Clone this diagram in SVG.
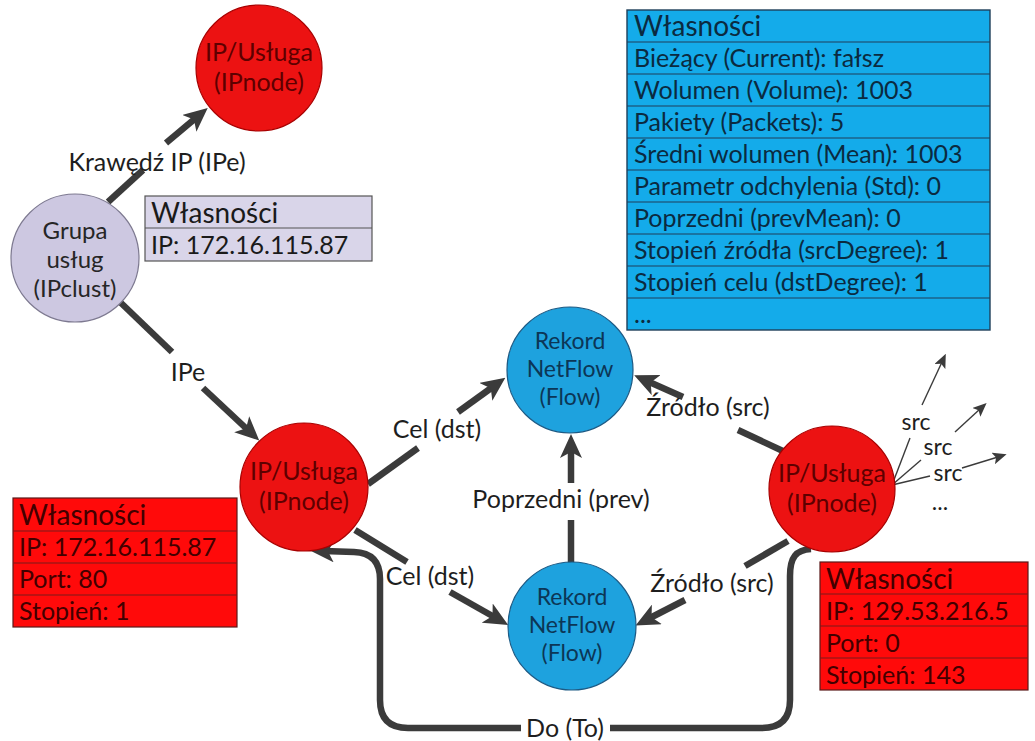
<svg xmlns="http://www.w3.org/2000/svg" width="1035" height="741" viewBox="0 0 1035 741">
  <defs>
    <style>
      text { font-family: Lato, "Liberation Sans", sans-serif; }
      .edge { fill: none; stroke: #3b3b3b; stroke-width: 6.5; stroke-linecap: butt; }
      .thin { fill: none; stroke: #3b3b3b; stroke-width: 1.4; }
      .lbl { font-size: 25px; fill: #1e1e1e; text-anchor: middle; }
      .small { font-size: 23px; fill: #1e1e1e; text-anchor: middle; }
      .red-node { fill: #ec1212; stroke: #a80000; stroke-width: 1.2; }
      .blue-node { fill: #1ea2de; stroke: #1d5a84; stroke-width: 1.2; }
      .grey-node { fill: #cdc8e1; stroke: #7d7990; stroke-width: 1.2; }
      .red-txt { font-size: 25px; fill: #5e0000; text-anchor: middle; }
      .blue-txt { font-size: 23px; fill: #0c3656; text-anchor: middle; }
      .grey-txt { font-size: 24px; fill: #262626; text-anchor: middle; }
      .hdr { font-size: 28px; }
      .row { font-size: 25px; }
      .sep { stroke-width: 1.2; }
    </style>
    <marker id="arrow" viewBox="0 0 24 22" refX="10" refY="11" markerWidth="24" markerHeight="22" markerUnits="userSpaceOnUse" orient="auto">
      <path d="M0,0 L24,11 L0,22 L6,11 Z" fill="#3b3b3b"/>
    </marker>
    <marker id="arrow-small" viewBox="0 0 14 12" refX="5" refY="6" markerWidth="14" markerHeight="12" markerUnits="userSpaceOnUse" orient="auto">
      <path d="M0,0 L14,6 L0,12 L3,6 Z" fill="#3b3b3b"/>
    </marker>
  </defs>

  <rect width="1035" height="741" fill="#ffffff"/>

  <!-- connectors -->
  <g id="connectors">
    <!-- IPclust -> top IPnode -->
    <line class="edge" x1="108" y1="202" x2="143" y2="170"/>
    <line class="edge" x1="166" y1="143" x2="197" y2="117" marker-end="url(#arrow)"/>
    <text class="lbl" x="157" y="171">Krawędź IP (IPe)</text>

    <!-- IPclust -> middle IPnode -->
    <line class="edge" x1="120" y1="302" x2="172" y2="352"/>
    <line class="edge" x1="203" y1="388" x2="249" y2="431" marker-end="url(#arrow)"/>
    <text class="lbl" x="188" y="381">IPe</text>

    <!-- IPnode -> upper Flow (dst) -->
    <line class="edge" x1="368" y1="484" x2="418" y2="448"/>
    <line class="edge" x1="458" y1="412" x2="494" y2="386" marker-end="url(#arrow)"/>
    <text class="lbl" x="437" y="438">Cel (dst)</text>

    <!-- IPnode -> lower Flow (dst) -->
    <line class="edge" x1="355" y1="530" x2="407" y2="562"/>
    <line class="edge" x1="450" y1="592" x2="496" y2="618" marker-end="url(#arrow)"/>
    <text class="lbl" x="430" y="585">Cel (dst)</text>

    <!-- lower Flow -> upper Flow (prev) -->
    <line class="edge" x1="571" y1="563" x2="571" y2="520"/>
    <line class="edge" x1="571" y1="483" x2="571" y2="448" marker-end="url(#arrow)"/>
    <text class="lbl" x="561" y="508">Poprzedni (prev)</text>

    <!-- right IPnode -> upper Flow (src) -->
    <line class="edge" x1="785" y1="452" x2="738" y2="430"/>
    <line class="edge" x1="683" y1="397" x2="647" y2="381" marker-end="url(#arrow)"/>
    <text class="lbl" x="708" y="416">Źródło (src)</text>

    <!-- right IPnode -> lower Flow (src) -->
    <line class="edge" x1="788" y1="541" x2="745" y2="566"/>
    <line class="edge" x1="685" y1="600" x2="648" y2="619" marker-end="url(#arrow)"/>
    <text class="lbl" x="712" y="592">Źródło (src)</text>

    <!-- right IPnode -> middle IPnode (To) -->
    <path class="edge" d="M811,549 C796,550 790,557 790,576 V700 Q790,728 762,728 H610"/>
    <path class="edge" d="M521,728 H408 Q380,728 380,700 V579 Q380,553 354,552 L324,551" marker-end="url(#arrow)"/>
    <text class="lbl" x="565" y="737">Do (To)</text>

    <!-- further src edges -->
    <line class="thin" x1="892" y1="485" x2="910" y2="438"/>
    <line class="thin" x1="922" y1="405" x2="942" y2="362" marker-end="url(#arrow-small)"/>
    <line class="thin" x1="892" y1="485" x2="921" y2="460"/>
    <line class="thin" x1="955" y1="432" x2="980" y2="409" marker-end="url(#arrow-small)"/>
    <line class="thin" x1="892" y1="485" x2="930" y2="476"/>
    <line class="thin" x1="962" y1="468" x2="998" y2="457" marker-end="url(#arrow-small)"/>
    <text class="small" x="916" y="430">src</text>
    <text class="small" x="938" y="455">src</text>
    <text class="small" x="948" y="481">src</text>
    <text class="small" x="940" y="510">...</text>
  </g>

  <!-- nodes -->
  <g id="ipnode-top">
    <circle class="red-node" cx="259" cy="68" r="63"/>
    <text class="red-txt" x="259" y="61">IP/Usługa</text>
    <text class="red-txt" x="259" y="91">(IPnode)</text>
  </g>

  <g id="ipclust">
    <circle class="grey-node" cx="75" cy="258" r="64"/>
    <text class="grey-txt" x="75" y="239">Grupa</text>
    <text class="grey-txt" x="75" y="268">usług</text>
    <text class="grey-txt" x="75" y="297">(IPclust)</text>
  </g>

  <g id="ipnode-mid">
    <circle class="red-node" cx="304" cy="487" r="64"/>
    <text class="red-txt" x="304" y="480">IP/Usługa</text>
    <text class="red-txt" x="304" y="510">(IPnode)</text>
  </g>

  <g id="flow-upper">
    <circle class="blue-node" cx="570" cy="370" r="63"/>
    <text class="blue-txt" x="570" y="349">Rekord</text>
    <text class="blue-txt" x="570" y="377">NetFlow</text>
    <text class="blue-txt" x="570" y="405">(Flow)</text>
  </g>

  <g id="flow-lower">
    <circle class="blue-node" cx="572" cy="626" r="64"/>
    <text class="blue-txt" x="572" y="605">Rekord</text>
    <text class="blue-txt" x="572" y="633">NetFlow</text>
    <text class="blue-txt" x="572" y="661">(Flow)</text>
  </g>

  <g id="ipnode-right">
    <circle class="red-node" cx="832" cy="489" r="63"/>
    <text class="red-txt" x="832" y="482">IP/Usługa</text>
    <text class="red-txt" x="832" y="512">(IPnode)</text>
  </g>

  <!-- property tables -->
  <g id="props-ipclust" fill="#1a1a1a">
    <rect x="145" y="196" width="227" height="65" fill="#d9d5e9" stroke="#555" stroke-width="1.2"/>
    <line class="sep" x1="145" y1="228" x2="372" y2="228" stroke="#555"/>
    <text class="hdr" x="151" y="223">Własności</text>
    <text class="row" x="151" y="254">IP: 172.16.115.87</text>
  </g>

  <g id="props-flow" fill="#0b2a40">
    <rect x="627" y="10" width="363" height="320" fill="#14abea" stroke="#1f3f5a" stroke-width="1.4"/>
    <g stroke="#1f3f5a" class="sep">
      <line x1="627" y1="42" x2="990" y2="42"/>
      <line x1="627" y1="74" x2="990" y2="74"/>
      <line x1="627" y1="106" x2="990" y2="106"/>
      <line x1="627" y1="138" x2="990" y2="138"/>
      <line x1="627" y1="170" x2="990" y2="170"/>
      <line x1="627" y1="202" x2="990" y2="202"/>
      <line x1="627" y1="234" x2="990" y2="234"/>
      <line x1="627" y1="266" x2="990" y2="266"/>
      <line x1="627" y1="298" x2="990" y2="298"/>
    </g>
    <text class="hdr" x="634" y="36">Własności</text>
    <text class="row" x="634" y="67">Bieżący (Current): fałsz</text>
    <text class="row" x="634" y="99">Wolumen (Volume): 1003</text>
    <text class="row" x="634" y="131">Pakiety (Packets): 5</text>
    <text class="row" x="634" y="163">Średni wolumen (Mean): 1003</text>
    <text class="row" x="634" y="195">Parametr odchylenia (Std): 0</text>
    <text class="row" x="634" y="227">Poprzedni (prevMean): 0</text>
    <text class="row" x="634" y="259">Stopień źródła (srcDegree): 1</text>
    <text class="row" x="634" y="291">Stopień celu (dstDegree): 1</text>
    <text class="row" x="634" y="323">...</text>
  </g>

  <g id="props-ipnode-mid" fill="#420000">
    <rect x="13" y="498" width="224" height="129" fill="#ff0a0a" stroke="#5a1a1a" stroke-width="1.2"/>
    <g stroke="#7a1a1a" class="sep">
      <line x1="13" y1="531" x2="237" y2="531"/>
      <line x1="13" y1="563" x2="237" y2="563"/>
      <line x1="13" y1="595" x2="237" y2="595"/>
    </g>
    <text class="hdr" x="19" y="525">Własności</text>
    <text class="row" x="19" y="556">IP: 172.16.115.87</text>
    <text class="row" x="19" y="588">Port: 80</text>
    <text class="row" x="19" y="620">Stopień: 1</text>
  </g>

  <g id="props-ipnode-right" fill="#420000">
    <rect x="820" y="562" width="208" height="128" fill="#ff0a0a" stroke="#5a1a1a" stroke-width="1.2"/>
    <g stroke="#7a1a1a" class="sep">
      <line x1="820" y1="594" x2="1028" y2="594"/>
      <line x1="820" y1="626" x2="1028" y2="626"/>
      <line x1="820" y1="658" x2="1028" y2="658"/>
    </g>
    <text class="hdr" x="826" y="589">Własności</text>
    <text class="row" x="826" y="620">IP: 129.53.216.5</text>
    <text class="row" x="826" y="652">Port: 0</text>
    <text class="row" x="826" y="684">Stopień: 143</text>
  </g>
</svg>
